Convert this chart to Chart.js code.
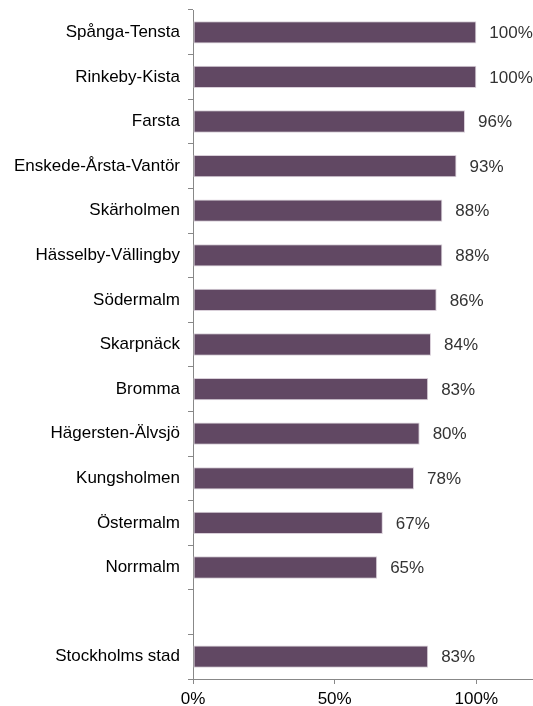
<!DOCTYPE html>
<html>
<head>
<meta charset="utf-8">
<script src="https://cdn.jsdelivr.net/npm/chart.js@4"></script>
<style>
  html, body { margin: 0; padding: 0; background: #fff; }
  #wrap { width: 533px; height: 706px; }
</style>
</head>
<body>
<div id="wrap"><canvas id="chart"></canvas></div>
<script>
// data
const districts = ['Spånga-Tensta', 'Rinkeby-Kista', 'Farsta', 'Enskede-Årsta-Vantör', 'Skärholmen',
  'Hässelby-Vällingby', 'Södermalm', 'Skarpnäck', 'Bromma', 'Hägersten-Älvsjö', 'Kungsholmen',
  'Östermalm', 'Norrmalm', '', 'Stockholms stad'];
const shares = [100, 100, 96, 93, 88, 88, 86, 84, 83, 80, 78, 67, 65, null, 83];
const xTicks = [0, 50, 100];

const fontFam = '"Liberation Sans", Arial, sans-serif';

// value labels to the right of the bars
const valueLabels = {
  id: 'valueLabels',
  afterDatasetsDraw(chart) {
    const ctx = chart.ctx;
    const meta = chart.getDatasetMeta(0);
    ctx.save();
    ctx.font = '17px ' + fontFam;
    ctx.fillStyle = '#333';
    ctx.textAlign = 'left';
    ctx.textBaseline = 'middle';
    meta.data.forEach((bar, i) => {
      if (shares[i] == null) return;
      ctx.fillText(shares[i] + '%', bar.x + 13, bar.y + 1);
    });
    ctx.restore();
  }
};

new Chart(document.getElementById('chart'), {
  type: 'bar',
  data: {
    labels: districts,
    datasets: [{
      data: shares,
      backgroundColor: '#614863',
      borderColor: '#d9cfd9',
      borderWidth: 1,
      borderSkipped: false,
      categoryPercentage: 1,
      barPercentage: 0.5
    }]
  },
  options: {
    indexAxis: 'y',
    responsive: true,
    maintainAspectRatio: false,
    animation: false,
    layout: { padding: { top: 10, right: 0, left: 0, bottom: 0 } },
    plugins: { legend: { display: false }, tooltip: { enabled: false } },
    scales: {
      x: {
        min: 0,
        max: 120,
        afterBuildTicks: s => { s.ticks = xTicks.concat([120]).map(v => ({ value: v })); },
        ticks: {
          color: '#000',
          font: { size: 17, family: fontFam },
          padding: 5,
          maxRotation: 0,
          callback: v => xTicks.includes(v) ? v + '%' : ''
        },
        grid: {
          drawOnChartArea: false,
          tickLength: 5,
          color: c => (c.tick && xTicks.includes(c.tick.value)) ? '#888' : 'rgba(0,0,0,0)'
        },
        border: { color: '#888' },
        afterFit: s => { s.height = 27; s.paddingLeft = 0; s.paddingRight = 0; }
      },
      y: {
        ticks: {
          color: '#000',
          font: { size: 17, family: fontFam },
          padding: 8,
          autoSkip: false
        },
        grid: { drawOnChartArea: false, tickLength: 5, color: '#888', offset: true },
        border: { color: '#888' },
        afterFit: s => { s.width = 193; s.paddingTop = 0; s.paddingBottom = 0; }
      }
    }
  },
  plugins: [valueLabels]
});
</script>
</body>
</html>
